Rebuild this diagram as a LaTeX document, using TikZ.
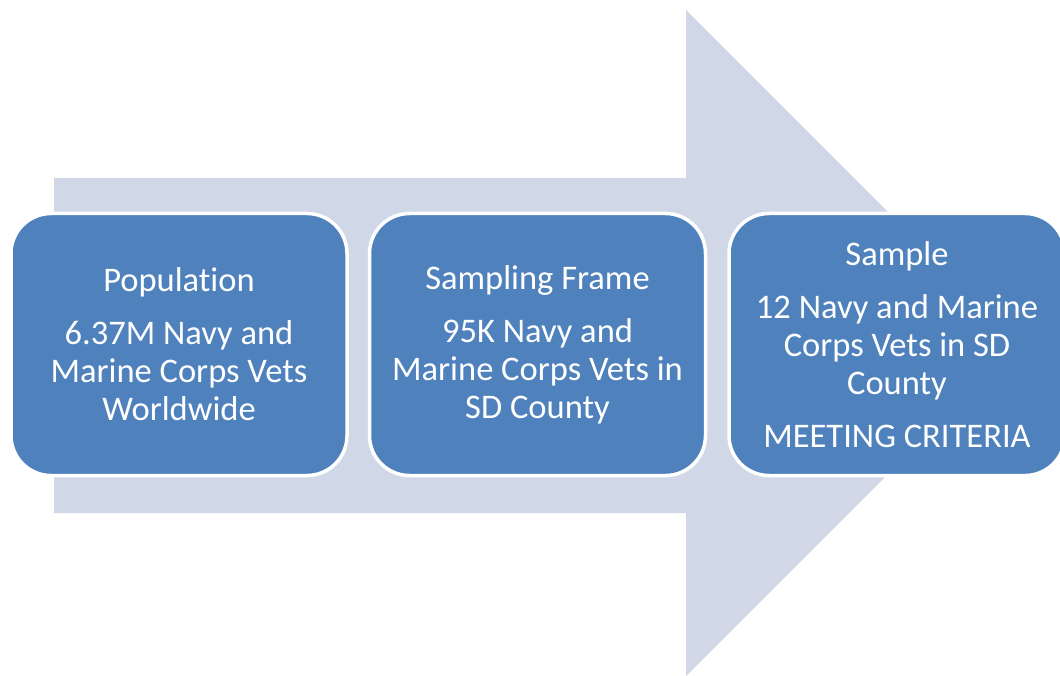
\documentclass[tikz,border=0pt]{standalone}
\usepackage{fontspec}
\setmainfont[Ligatures=NoCommon]{Carlito}
\definecolor{arrowfill}{HTML}{D0D8E8}
\definecolor{stagefill}{HTML}{4F81BD}

\begin{document}
\begin{tikzpicture}
[x=1pt, y=-1pt,
flow/.style={fill=arrowfill},
stage/.style={fill=stagefill, draw=white, line width=3.5pt, rounded corners=40pt, minimum width=336pt, minimum height=262pt, text=white, align=center, font=\fontsize{34.5}{38}\selectfont}]
\useasboundingbox (0,0) rectangle (1060,676);
\fill[flow] (54,178) -- (686,178) -- (686,10) -- (1019,343) -- (686,676) -- (686,513) -- (54,513) -- cycle;
\node[stage] (population) at (179,344.5) {Population\\[15pt]6.37M Navy and\\Marine Corps Vets\\Worldwide};
\node[stage] (frame) at (537.5,344.5) {Sampling Frame\\[15pt]95K Navy and\\Marine Corps Vets in\\SD County};
\node[stage] (sample) at (897,344.5) {Sample\\[15pt]12 Navy and Marine\\Corps Vets in SD\\County\\[15pt]MEETING CRITERIA};
\end{tikzpicture}
\end{document}
